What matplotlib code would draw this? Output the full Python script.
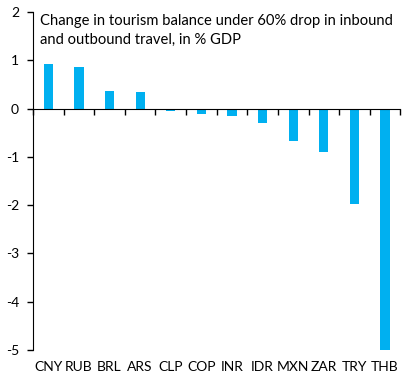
import numpy as np
import matplotlib.pyplot as plt
from matplotlib.ticker import FixedLocator

plt.rcParams['font.family'] = ['Lato', 'DejaVu Sans']
plt.rcParams['axes.unicode_minus'] = False

currencies = ['CNY', 'RUB', 'BRL', 'ARS', 'CLP', 'COP', 'INR', 'IDR', 'MXN', 'ZAR', 'TRY', 'THB']
balance_change = [0.92, 0.86, 0.37, 0.35, -0.05, -0.12, -0.16, -0.3, -0.67, -0.9, -1.98, -5.0]
title = 'Change in tourism balance under 60% drop in inbound\nand outbound travel, in % GDP'

fig = plt.figure(figsize=(4.05, 3.8), dpi=100)
ax = fig.add_axes([0.0815, 0.079, 0.907, 0.889])

x = np.arange(len(currencies))
ax.bar(x, balance_change, width=0.3, color='#00B0F0', zorder=2)

ax.set_xlim(-0.5, len(currencies) - 0.5)
ax.set_ylim(-5, 2)
ax.set_yticks(range(-5, 3))
ax.tick_params(axis='y', length=4, width=1, labelsize=10, pad=6)

# zero line with category boundary ticks
for side in ['top', 'right']:
    ax.spines[side].set_visible(False)
ax.spines['bottom'].set_position(('data', 0))
ax.spines['bottom'].set_zorder(3)
ax.xaxis.set_major_locator(FixedLocator(np.arange(-0.5, len(currencies), 1.0)))
ax.tick_params(axis='x', direction='out', length=4, width=1, labelbottom=False)

# category labels at the bottom
sec = ax.secondary_xaxis(0.0)
sec.set_xticks(x)
sec.set_xticklabels(currencies)
sec.tick_params(length=0, labelsize=10, pad=8)
sec.spines['bottom'].set_visible(False)

ax.text(0.02, 0.995, title, transform=ax.transAxes, ha='left', va='top',
        fontsize=10.6, linespacing=1.5)

fig.savefig('out.png', dpi=100)
